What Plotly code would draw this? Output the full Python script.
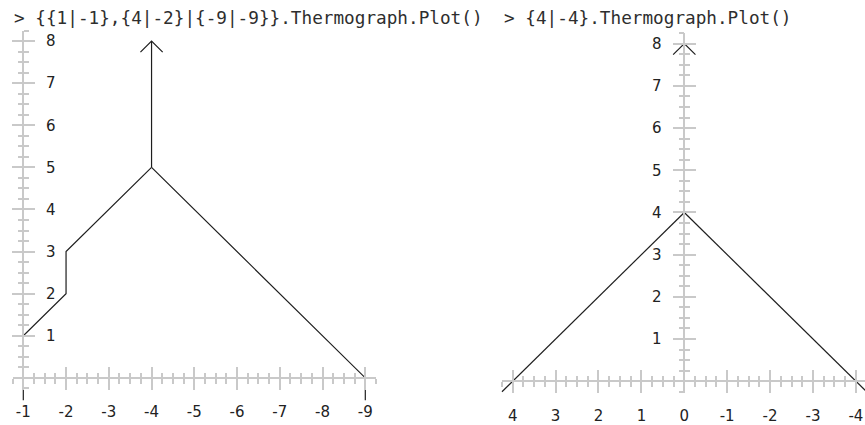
import plotly.graph_objects as go

# --- data -----------------------------------------------------------------
# left thermograph: {{1|-1},{4|-2}|{-9|-9}}
left_wall_x = [-1, -1, -2, -2, -4]
left_wall_y = [-0.53, 1, 2, 3, 5]
right_wall_x = [-4, -9, -9]
right_wall_y = [5, 0, -0.53]
mast_x = [-4, -4]
mast_y = [5, 8]
left_xticks = [-1, -2, -3, -4, -5, -6, -7, -8, -9]
left_yticks = [1, 2, 3, 4, 5, 6, 7, 8]

# right thermograph: {4|-4}
r_left_x = [4.25, 0]
r_left_y = [-0.25, 4]
r_right_x = [0, -4.25]
r_right_y = [4, -0.25]
r_mast_x = [0, 0]
r_mast_y = [4, 8]
right_xticks = [4, 3, 2, 1, 0, -1, -2, -3, -4]
right_yticks = [1, 2, 3, 4, 5, 6, 7, 8]

titles = ["> {{1|-1},{4|-2}|{-9|-9}}.Thermograph.Plot()", "> {4|-4}.Thermograph.Plot()"]

# --- page geometry (window pixels) -----------------------------------------
W, H = 865, 425
INK = "#1e1e1e"
AXIS = "#c9c9c9"
ARROW = 0.26

fig = go.Figure()


def px(p):
    return p / W


def py(q):
    return 1 - q / H


def line(xs, ys, xa, ya):
    fig.add_trace(go.Scatter(x=xs, y=ys, mode="lines", xaxis=xa, yaxis=ya,
                             line=dict(color=INK, width=1.2), hoverinfo="skip"))


def arrow(xs, ys, xa, ya):
    tx, ty = xs[-1], ys[-1]
    line([tx - ARROW, tx, tx + ARROW], [ty - ARROW, ty, ty - ARROW], xa, ya)


def panel(k, dom_x, x0px, unit_x, y0px, unit_y, xticks, yticks, yside, y0x, lab_sx, lab_sy):
    """k: index of first axis for this panel (data axis k, visible k+1, inner ticks k+2)."""
    # data axes: invisible, cover the panel area
    a, b = dom_x
    xr = [(x0px - a) / unit_x, (x0px - b) / unit_x]
    yr = [(y0px - H) / unit_y, y0px / unit_y]
    sfx = "" if k == 1 else str(k)
    fig.layout["xaxis" + sfx] = dict(domain=[px(a), px(b)], range=xr, visible=False,
                                     anchor="y" + sfx)
    fig.layout["yaxis" + sfx] = dict(domain=[0, 1], range=yr, visible=False,
                                     anchor="x" + sfx)
    # visible axes (line, outer ticks, labels) + overlay for inner ticks
    xa0 = max(x0px - (max(xticks) + 0.25) * unit_x, 0)
    xa1 = min(x0px - (min(xticks) - 0.25) * unit_x, W)
    axr = [(x0px - xa0) / unit_x, (x0px - xa1) / unit_x]
    ya0, ya1 = y0px + 0.25 * unit_y, y0px - 8.25 * unit_y
    ayr = [-0.25, 8.25]
    for j, tk in ((k + 1, "outside"), (k + 2, "inside")):
        labels = tk == "outside"
        common = dict(showgrid=False, zeroline=False, ticklen=11, tickwidth=1.5,
                      tickcolor=AXIS, ticks=tk, showticklabels=labels,
                      tickfont=dict(family="DejaVu Sans", size=15, color="#222"),
                      minor=dict(dtick=0.25, tick0=0, ticklen=5, tickwidth=1.5,
                                 tickcolor=AXIS, ticks=tk, showgrid=False))
        xd = dict(common, domain=[px(xa0), px(xa1)], range=axr, anchor="free",
                  position=py(y0px), showline=labels, linecolor=AXIS, linewidth=1.5,
                  tickmode="array", tickvals=xticks, ticktext=[str(v) for v in xticks],
                  ticklabelstandoff=lab_sx, side="bottom")
        yd = dict(common, domain=[py(ya0), py(ya1)], range=ayr, anchor="free",
                  position=px(y0x), showline=labels, linecolor=AXIS, linewidth=1.5,
                  tickmode="array", tickvals=yticks, ticktext=[str(v) for v in yticks],
                  ticklabelstandoff=lab_sy, side=yside)
        if not labels:
            xd["overlaying"] = "x" + str(k + 1)
            yd["overlaying"] = "y" + str(k + 1)
        fig.layout["xaxis" + str(j)] = xd
        fig.layout["yaxis" + str(j)] = yd
        fig.add_trace(go.Scatter(x=[], y=[], xaxis="x" + str(j), yaxis="y" + str(j)))


# left panel: x=-1 at px 23.3, 42.75 px/unit (reversed), y=0 at 383.3, 42.7 px/unit
panel(1, (0, 480), 23.3 - 42.75, 42.75, 383.3, 42.7,
      left_xticks, left_yticks, "right", 23.3, 9, 8)
line(left_wall_x, left_wall_y, "x", "y")
line(right_wall_x, right_wall_y, "x", "y")
line(mast_x, mast_y, "x", "y")
arrow(mast_x, mast_y, "x", "y")

# right panel: x=0 at px 684.3, y=0 at 386.7
panel(4, (480, W), 684.3, 42.9, 386.7, 42.8,
      right_xticks, right_yticks, "left", 684.3, 10, 8)
line(r_left_x, r_left_y, "x4", "y4")
line(r_right_x, r_right_y, "x4", "y4")
line(r_mast_x, r_mast_y, "x4", "y4")
arrow(r_mast_x, r_mast_y, "x4", "y4")

for t, x in zip(titles, (11.5, 501.5)):
    fig.add_annotation(text=t, xref="paper", yref="paper", x=px(x), y=py(18),
                       xanchor="left", yanchor="middle", showarrow=False,
                       font=dict(family="DejaVu Sans Mono", size=17.7, color="#2e2e2e"))

fig.update_layout(width=W, height=H, margin=dict(l=0, r=0, t=0, b=0),
                  paper_bgcolor="white", plot_bgcolor="rgba(0,0,0,0)", showlegend=False)

# drop the browser's default 8px body margin so the figure fills the window
fig.write_html("out.html", config={"displayModeBar": False},
               post_script="document.body.style.margin = '0';")
